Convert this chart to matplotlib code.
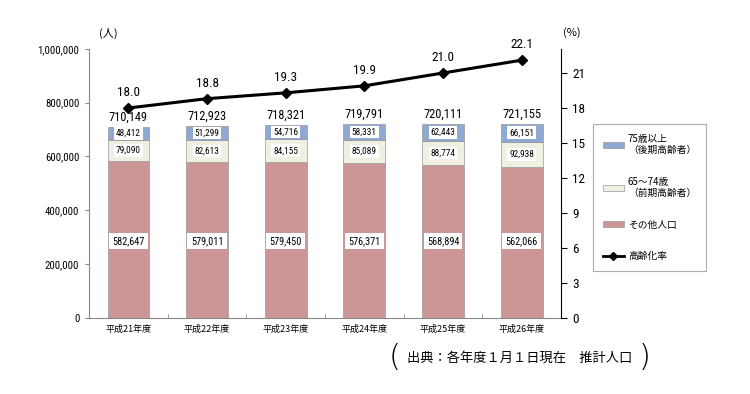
import matplotlib
matplotlib.use("Agg")
import matplotlib.pyplot as plt
import numpy as np
from matplotlib.patches import Patch
from matplotlib.lines import Line2D
from matplotlib import font_manager

plt.rcParams['font.family'] = ['Noto Sans CJK JP', 'DejaVu Sans']

narrow = None
for f in font_manager.fontManager.ttflist:
    key = (f.name + " " + f.fname).lower()
    if ("narrow" in key or "condensed" in key) and "bold" not in key and "italic" not in key and "oblique" not in key:
        narrow = f.name
        if "liberation" in key:
            break
NUM = [narrow, 'Liberation Sans', 'DejaVu Sans'] if narrow else ['Liberation Sans', 'DejaVu Sans']
scale = 1.12 if narrow else 1.0

categories = ["平成21年度", "平成22年度", "平成23年度", "平成24年度", "平成25年度", "平成26年度"]
other_pop = [582647, 579011, 579450, 576371, 568894, 562066]
age_65_74 = [79090, 82613, 84155, 85089, 88774, 92938]
age_75_plus = [48412, 51299, 54716, 58331, 62443, 66151]
totals = [710149, 712923, 718321, 719791, 720111, 721155]
aging_rate = [18.0, 18.8, 19.3, 19.9, 21.0, 22.1]

c_red = "#CC9696"
c_cream = "#EFF0E2"
c_blue = "#90A9D1"

fig = plt.figure(figsize=(7.5, 3.94), dpi=100)
ax = fig.add_axes([0.1187, 0.193, 0.6293, 0.683])
x = np.arange(len(categories))
w = 0.53
other = np.array(other_pop)
a1 = np.array(age_65_74)
a2 = np.array(age_75_plus)
ax.bar(x, other, w, color=c_red, edgecolor="#999999", linewidth=0.5, zorder=2)
ax.bar(x, a1, w, bottom=other, color=c_cream, edgecolor="#999999", linewidth=0.5, zorder=2)
ax.bar(x, a2, w, bottom=other + a1, color=c_blue, edgecolor="#999999", linewidth=0.5, zorder=2)

for i in range(len(x)):
    ax.text(x[i], 286000, f"{other_pop[i]:,}", ha="center", va="center", fontsize=6.6 * scale, family=NUM,
            bbox=dict(boxstyle="square,pad=0.32", fc="white", ec="none"), zorder=4)
    ax.text(x[i], other[i] + a1[i] / 2, f"{age_65_74[i]:,}", ha="center", va="center", fontsize=6.0 * scale, family=NUM,
            bbox=dict(boxstyle="square,pad=0.2", fc="white", ec="none"), zorder=4)
    ax.text(x[i], other[i] + a1[i] + a2[i] / 2, f"{age_75_plus[i]:,}", ha="center", va="center", fontsize=6.0 * scale, family=NUM,
            bbox=dict(boxstyle="square,pad=0.2", fc="white", ec="none"), zorder=4)
    ax.text(x[i], totals[i] + 12000, f"{totals[i]:,}", ha="center", va="bottom", fontsize=8.0 * scale, family=NUM)

ax.set_xlim(-0.5, len(categories) - 0.5)
ax.set_ylim(0, 1000000)
ax.set_yticks(np.arange(0, 1000001, 200000))
ax.set_yticklabels([f"{v:,}" for v in range(0, 1000001, 200000)], fontsize=7.0 * scale, family=NUM)
ax.set_xticks(x)
ax.set_xticklabels(categories, fontsize=6.5)
ax.tick_params(axis="x", length=0, pad=5)
ax.set_xticks(np.arange(-0.5, len(categories), 1), minor=True)
ax.tick_params(axis="x", which="minor", direction="in", length=3, color="#888888")
ax.tick_params(axis="y", length=3, color="#888888", pad=4)
for s in ["top", "right"]:
    ax.spines[s].set_visible(False)
ax.spines["left"].set_color("#888888")
ax.spines["bottom"].set_color("#888888")

ax2 = ax.twinx()
ax2.plot(x, aging_rate, color="black", linewidth=2.2, marker="D", markersize=5, zorder=5)
for i in range(len(x)):
    ax2.text(x[i], aging_rate[i] + 0.75, f"{aging_rate[i]:.1f}", ha="center", va="bottom", fontsize=8.5 * scale, family=NUM)
ax2.set_ylim(0, 23.07)
ax2.set_yticks(np.arange(0, 22, 3))
ax2.set_yticklabels([str(v) for v in range(0, 22, 3)], fontsize=8.5 * scale, family=NUM)
ax2.tick_params(axis="y", length=4, pad=4)
for s in ["top", "left", "bottom"]:
    ax2.spines[s].set_visible(False)
ax2.spines["right"].set_color("black")

fig.text(108 / 750, 1 - 33 / 394, "(人)", fontsize=8, ha="center", va="center")
fig.text(572 / 750, 1 - 33 / 394, "(%)", fontsize=8, ha="center", va="center")

handles = [
    Patch(facecolor=c_blue, edgecolor="#999999", linewidth=0.5),
    Patch(facecolor=c_cream, edgecolor="#999999", linewidth=0.5),
    Patch(facecolor=c_red, edgecolor="#999999", linewidth=0.5),
    Line2D([0], [0], color="black", linewidth=2, marker="D", markersize=4),
]
labels = ["75歳以上\n（後期高齢者）", "65～74歳\n（前期高齢者）", "その他人口", "高齢化率"]
leg = fig.legend(handles, labels, loc="upper left", bbox_to_anchor=(593 / 750, 1 - 124 / 394),
                 fontsize=7, frameon=True, fancybox=False, edgecolor="#999999",
                 handlelength=2.2, handleheight=0.5, labelspacing=2.2, borderpad=1.0,
                 handletextpad=0.4, borderaxespad=0)
leg.get_frame().set_linewidth(0.8)

fig.text(395 / 750, 1 - 358 / 394, "(", fontsize=22, ha="center", va="center", family=["DejaVu Sans"], fontweight="light")
fig.text(645 / 750, 1 - 358 / 394, ")", fontsize=22, ha="center", va="center", family=["DejaVu Sans"], fontweight="light")
fig.text(520 / 750, 1 - 358 / 394, "出典：各年度１月１日現在　推計人口", fontsize=9.5, ha="center", va="center")

fig.savefig("out.png", dpi=100)
